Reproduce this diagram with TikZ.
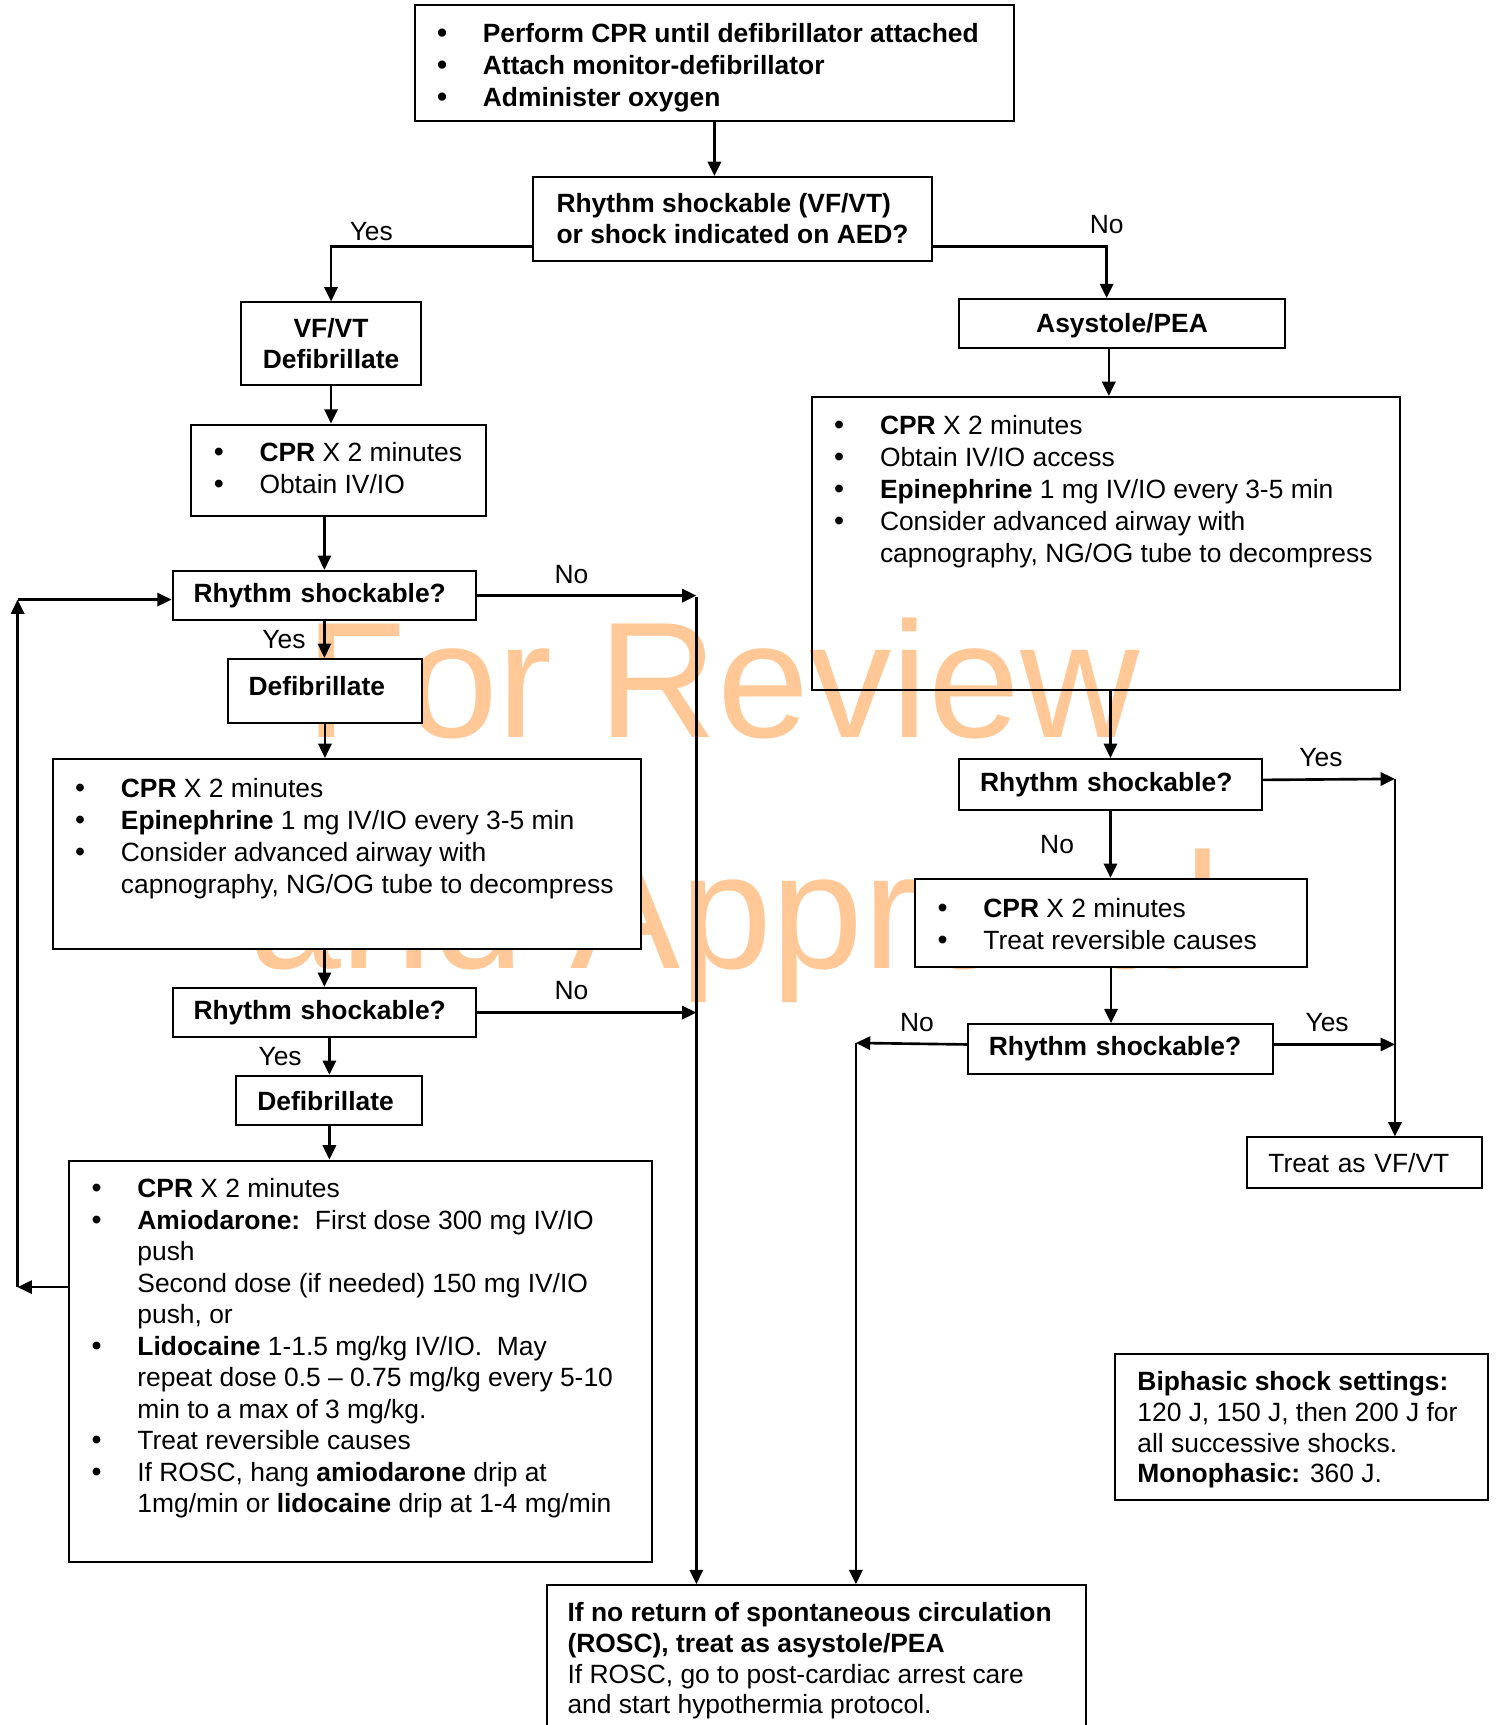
\documentclass[tikz,border=0pt]{standalone}
\usepackage{fontspec}
\setmainfont{Liberation Sans}
\usetikzlibrary{arrows.meta,positioning,calc}
\definecolor{wmorange}{RGB}{255,200,150}

\newcommand{\bul}{\makebox[31pt][l]{\hspace{10.2pt}{\fontsize{13}{13}\selectfont\textbullet}}}
\newcommand{\ind}{\hspace*{31pt}}
% fixed-size box body: width, height, first baseline, lines
\newcommand{\boxbody}[4]{\vbox to #2{\hsize=#1\relax\parindent=0pt\parskip=0pt
  \raggedright\lineskiplimit=-\maxdimen
  \vskip\dimexpr#3-\ht\strutbox\relax
  \strut#4\par\vfil}}

\begin{document}
\begin{tikzpicture}[
  x=0.5pt, y=-0.5pt,
  font=\fontsize{12}{14.5}\selectfont,
  lst/.style={draw,fill=white,line width=0.9pt,anchor=north west,inner sep=0pt},
  qbox/.style={draw,fill=white,line width=0.9pt,anchor=north west,inner xsep=9.5pt,inner ysep=0pt,
    align=left,font=\bfseries\fontsize{12}{14}\selectfont},
  arr/.style={-{Triangle[length=6.5pt,width=6pt]},line width=1.2pt},
  lbl/.style={inner sep=2pt},
  wm/.style={text=wmorange,font=\fontsize{75}{75}\selectfont,inner sep=0pt,anchor=base west},
]
  \useasboundingbox (0,0) rectangle (1361,1568);
  \clip (0,0) rectangle (1361,1568);
  % watermark
  \node[wm] (wm1) at (277,670) {For Review};
  \node[wm] (wm2) at (226,880) {and Approval};
  % top
  \node[lst] (init) at (376,4) {\boxbody{272.5pt}{52.5pt}{17pt}{\bfseries
    \bul Perform CPR until defibrillator attached\\
    \bul Attach monitor-defibrillator\\
    \bul Administer oxygen}};
  \node[qbox,inner xsep=2pt,minimum width=181pt,minimum height=38pt] (q0) at (484,160)
    {Rhythm shockable (VF/VT)\\or shock indicated on AED?};
  % shockable branch
  \node[qbox,align=center,text width=63pt,minimum height=37.5pt] (vfvt) at (218,274) {VF/VT\\Defibrillate};
  \node[lst] (cpr1) at (173,385) {\boxbody{134pt}{41.5pt}{17pt}{%
    \bul\textbf{CPR} X 2 minutes\\
    \bul Obtain IV/IO}};
  \node[qbox,text width=119pt,minimum height=22.5pt] (rs1) at (156,518) {Rhythm shockable?};
  \node[qbox,text width=69.5pt,minimum height=29pt,text depth=4pt] (defib1) at (206,598) {Defibrillate};
  \node[lst] (cpr2) at (47,689) {\boxbody{267.5pt}{86.5pt}{17.5pt}{%
    \bul\textbf{CPR} X 2 minutes\\
    \bul\textbf{Epinephrine} 1 mg IV/IO every 3-5 min\\
    \bul Consider advanced airway with\\
    \ind capnography, NG/OG tube to decompress}};
  \node[qbox,text width=119pt,minimum height=22.5pt] (rs2) at (156,897) {Rhythm shockable?};
  \node[qbox,text width=65.5pt,minimum height=22.5pt] (defib2) at (214,977) {Defibrillate};
  \node[lst,font=\fontsize{12}{14.3}\selectfont] (amio) at (62,1054) {\boxbody{265pt}{182.5pt}{17pt}{%
    \bul\textbf{CPR} X 2 minutes\\
    \bul\textbf{Amiodarone:}\ \ First dose 300 mg IV/IO\\
    \ind push\\
    \ind Second dose (if needed) 150 mg IV/IO\\
    \ind push, or\\
    \bul\textbf{Lidocaine} 1-1.5 mg/kg IV/IO.\ \ May\\
    \ind repeat dose 0.5 – 0.75 mg/kg every 5-10\\
    \ind min to a max of 3 mg/kg.\\
    \bul Treat reversible causes\\
    \bul If ROSC, hang \textbf{amiodarone} drip at\\
    \ind 1mg/min or \textbf{lidocaine} drip at 1-4 mg/min}};
  % non-shockable branch
  \node[qbox,align=center,text width=129pt,minimum height=22pt,text depth=0pt] (asys) at (871,271) {Asystole/PEA};
  \node[lst,fill=none] (alist) at (737,360) {\boxbody{267.5pt}{133pt}{17pt}{%
    \bul\textbf{CPR} X 2 minutes\\
    \bul Obtain IV/IO access\\
    \bul\textbf{Epinephrine} 1 mg IV/IO every 3-5 min\\
    \bul Consider advanced airway with\\
    \ind capnography, NG/OG tube to decompress}};
  \node[qbox,text width=118.5pt,minimum height=23pt] (rs3) at (871,689) {Rhythm shockable?};
  \node[lst] (cpr4) at (831,798) {\boxbody{178pt}{40pt}{17.5pt}{%
    \bul\textbf{CPR} X 2 minutes\\
    \bul Treat reversible causes}};
  \node[qbox,text width=119.5pt,minimum height=22.5pt] (rs4) at (879,930) {Rhythm shockable?};
  \node[qbox,font=\mdseries\fontsize{12}{14}\selectfont,text width=87.5pt,minimum height=23pt] (treat) at (1133,1033) {Treat as VF/VT};
  \node[lst,font=\fontsize{12}{14}\selectfont] (biph) at (1013,1230) {\boxbody{169.5pt}{66.5pt}{16.5pt}{%
    \leftskip=10pt\textbf{Biphasic shock settings:}\\
    120 J, 150 J, then 200 J for\\
    all successive shocks.\\
    \textbf{Monophasic:} 360 J.}};
  \node[lst,font=\fontsize{12}{14}\selectfont] (final) at (496,1440) {\boxbody{245pt}{72.5pt}{16.5pt}{%
    \leftskip=9.5pt\textbf{If no return of spontaneous circulation}\\
    \textbf{(ROSC), treat as asystole/PEA}\\
    If ROSC, go to post-cardiac arrest care\\
    and start hypothermia protocol.}};
  % connectors, top
  \draw[arr] (init.south) -- (init.south |- q0.north);
  \draw[arr] ([yshift=7pt]q0.south west) -| node[lbl,above,pos=0.4] (yes0) {Yes} (vfvt.north);
  \draw[arr] ([yshift=7pt]q0.south east) -| node[lbl,above=3pt,pos=0.5] (no0) {No} ([xshift=-7pt]asys.north);
  % left column
  \draw[arr] (vfvt.south) -- (vfvt.south |- cpr1.north);
  \draw[arr] (rs1.north |- cpr1.south) -- (rs1.north);
  \draw[arr] (rs1.south) -- node[lbl,left=6pt] (yes1) {Yes} (rs1.south |- defib1.north);
  \draw[arr] (defib1.south) -- (defib1.south |- cpr2.north);
  \draw[arr] (rs2.north |- cpr2.south) -- (rs2.north);
  \draw[arr] (defib2.north |- rs2.south) -- node[lbl,left=10pt] (yes2) {Yes} (defib2.north);
  \draw[arr] (defib2.south) -- (defib2.south |- amio.north);
  % loop back
  \coordinate (loopB) at (16,1170);
  \coordinate (loopT) at (16,545);
  \draw[arr] (amio.west |- loopB) -- (loopB);
  \draw[arr] (loopB) -- (loopT);
  \draw[arr] (loopT) -- (loopT -| rs1.west);
  % no-shock collector
  \coordinate (vline) at (633,543);
  \draw[arr] (rs1.east) -- node[lbl,above=3pt,pos=0.43] (no1) {No} (rs1.east -| vline);
  \draw[arr] (rs2.east) -- node[lbl,above=3pt,pos=0.43] (no2) {No} (rs2.east -| vline);
  \draw[arr] (vline) -- (vline |- final.north);
  % right column
  \draw[arr] ([xshift=-6pt]asys.south) -- ([xshift=-6pt]asys.south |- alist.north);
  \draw[arr] (rs3.north |- alist.south) -- (rs3.north);
  \coordinate (vline2) at (1268,708);
  \draw[arr] ([yshift=2pt]rs3.east) -- node[lbl,above=3pt,pos=0.44] (yes3) {Yes} (vline2);
  \draw[arr] (vline2) -- (vline2 |- treat.north);
  \draw[arr] (rs3.south) -- node[lbl,left=14pt] (no3) {No} (rs3.south |- cpr4.north);
  \draw[arr] (cpr4.south) -- (cpr4.south |- rs4.north);
  \draw[arr] ([yshift=2pt]rs4.east) -- node[lbl,above=3pt,pos=0.44] (yes4) {Yes} ([yshift=2pt]rs4.east -| vline2);
  \coordinate (vline3) at (778,948);
  \draw[arr] ([yshift=2pt]rs4.west) -- node[lbl,above=3pt,pos=0.45] (no4) {No} (vline3);
  \draw[arr] (vline3) -- (vline3 |- final.north);
\end{tikzpicture}
\end{document}
